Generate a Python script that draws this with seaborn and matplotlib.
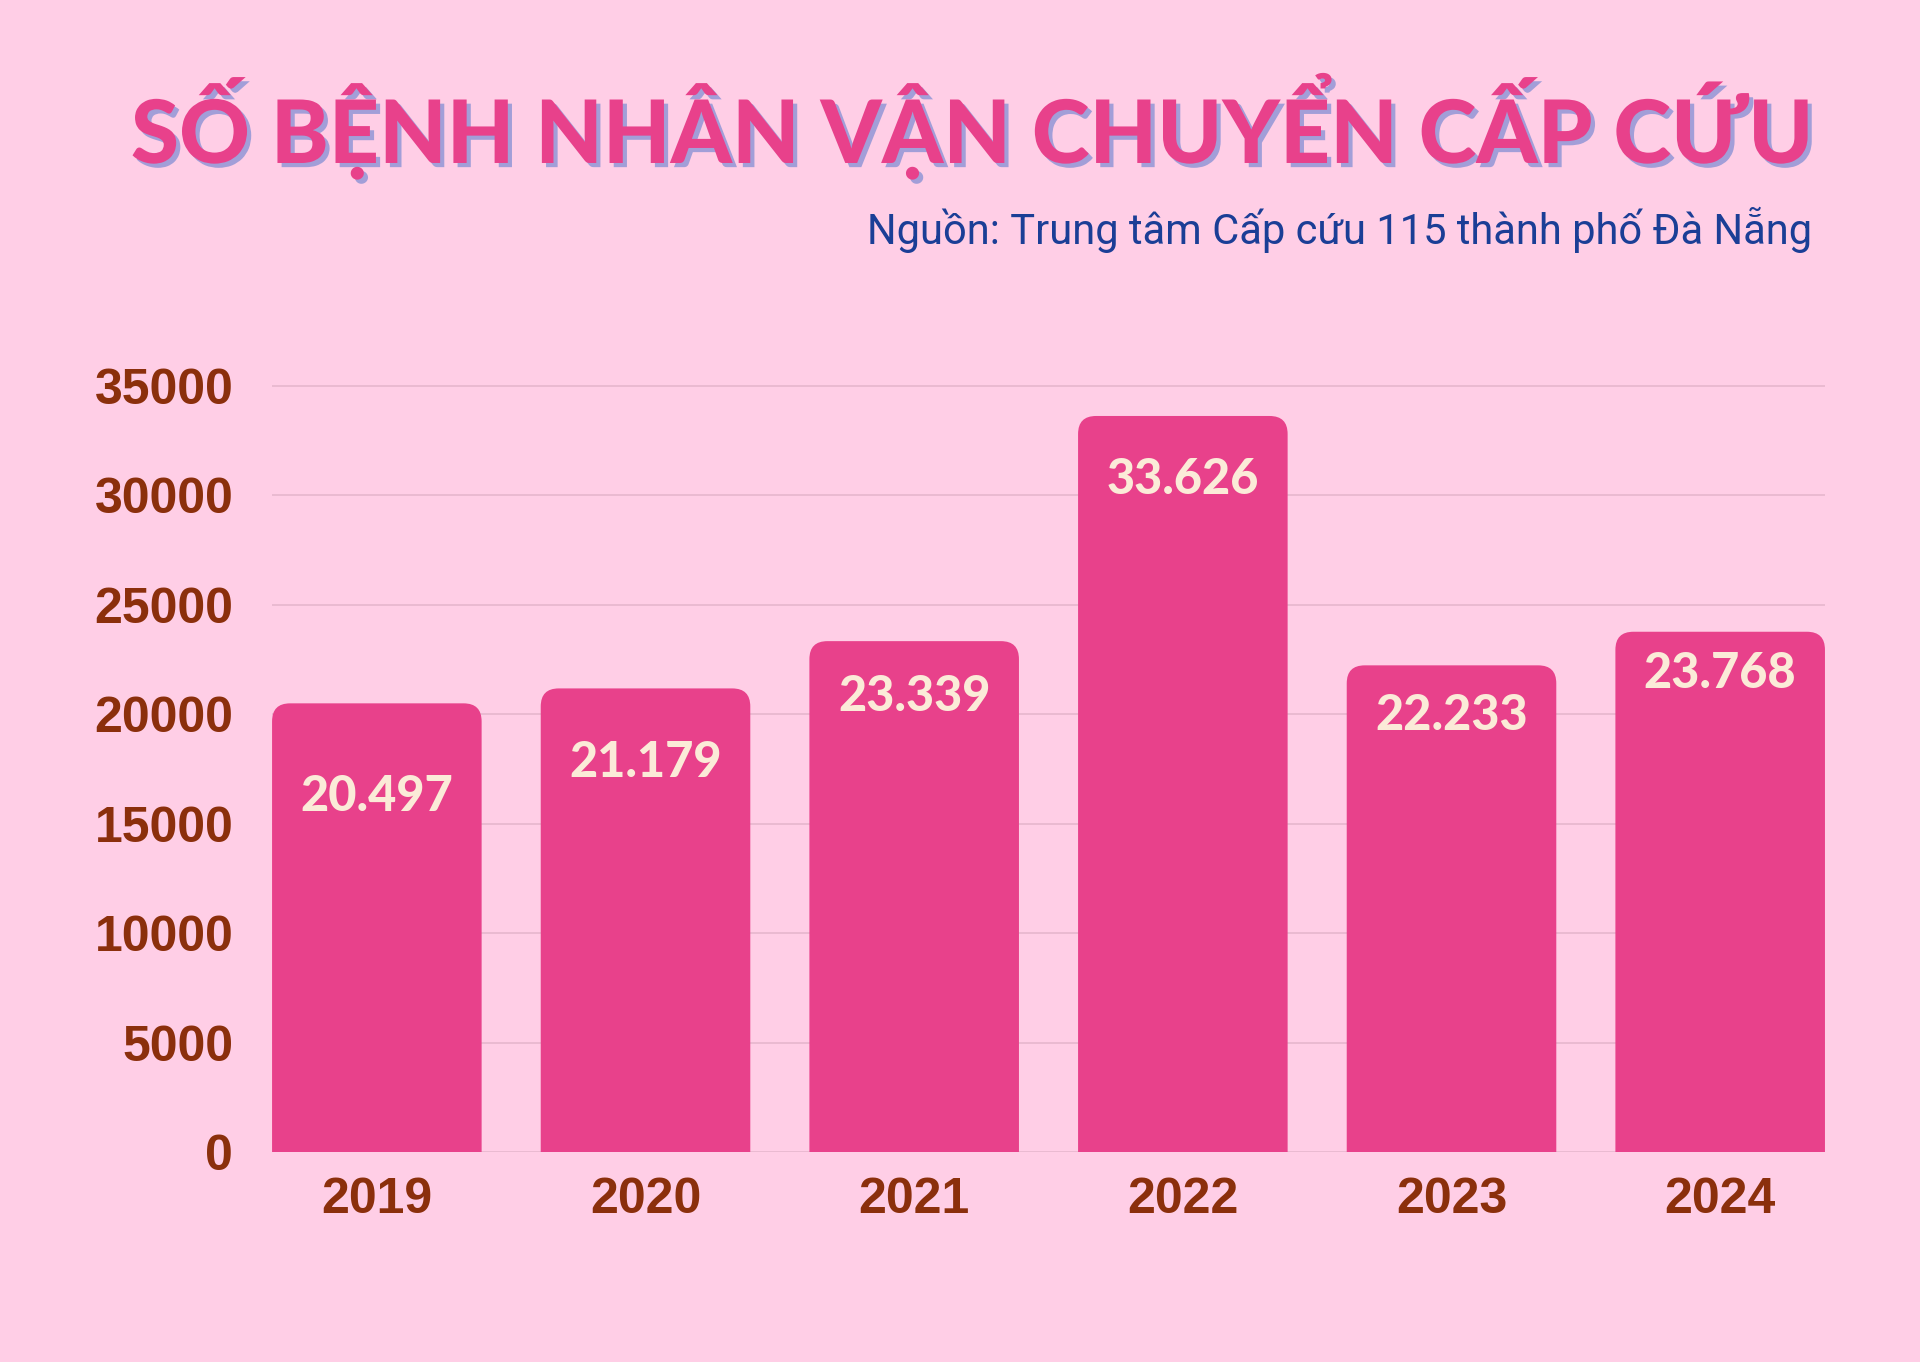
import numpy as np
import pandas as pd
import matplotlib
matplotlib.use('Agg')
import matplotlib.pyplot as plt
import matplotlib.patheffects as pe
from matplotlib.patches import FancyBboxPatch
import seaborn as sns

# data
years = ['2019', '2020', '2021', '2022', '2023', '2024']
patients = [20497, 21179, 23339, 33626, 22233, 23768]
labels = ['20.497', '21.179', '23.339', '33.626', '22.233', '23.768']
yticks = [0, 5000, 10000, 15000, 20000, 25000, 30000, 35000]

# how far each value label sits below its bar top (points)
label_drop = [67, 53, 40, 46, 36, 30]

BG = '#FFCEE6'
BAR = '#E8418B'
GRID = '#E6B6CD'
TICK = '#8B2F0C'
SUB = '#1B3E96'
LABEL = '#FBEBD8'
SHADOW = '#A29ED8'

sns.set_style('white')
plt.rcParams['font.family'] = ['Lato', 'DejaVu Sans']

df = pd.DataFrame({'year': years, 'patients': patients})

fig = plt.figure(figsize=(19.2, 13.62), dpi=100, facecolor=BG)
ax = fig.add_axes([0.1417, 0.1542, 0.9505 - 0.1417, 0.7247 - 0.1542])
ax.set_facecolor(BG)

sns.barplot(data=df, x='year', y='patients', color=BAR, width=0.78,
            saturation=1, ax=ax)

ax.set_xlim(-0.39, 5.39)
ax.set_ylim(0, 35500)
ax.set_yticks(yticks)
ax.set_yticklabels([str(t) for t in yticks])
ax.set_xlabel('')
ax.set_ylabel('')
for s in ax.spines.values():
    s.set_visible(False)
ax.yaxis.grid(True, color=GRID, lw=1.2)
ax.set_axisbelow(True)
ax.tick_params(axis='both', length=0, colors=TICK)
ax.tick_params(axis='y', pad=28)
ax.tick_params(axis='x', pad=18)
for t in ax.get_xticklabels() + ax.get_yticklabels():
    t.set_fontfamily(['Liberation Sans Narrow', 'Liberation Sans', 'DejaVu Sans'])
    t.set_fontweight('bold')
    t.set_fontsize(36)

# swap the plain bars for ones with rounded tops
fig.canvas.draw()
bb = ax.get_window_extent()
px_x = bb.width / (ax.get_xlim()[1] - ax.get_xlim()[0])
px_y = bb.height / (ax.get_ylim()[1] - ax.get_ylim()[0])
r_px = 18
bars = list(ax.patches)
for p in bars:
    x0, y0, w, h = p.get_x(), p.get_y(), p.get_width(), p.get_height()
    p.remove()
    extra = 2 * r_px / px_y
    box = FancyBboxPatch((x0, y0 - extra), w, h + extra,
                         boxstyle=f'round,pad=0,rounding_size={r_px / px_x}',
                         mutation_aspect=px_x / px_y,
                         facecolor=BAR, edgecolor='none', zorder=2)
    ax.add_patch(box)

for i, (v, lab) in enumerate(zip(patients, labels)):
    ax.annotate(lab, xy=(i, v), xytext=(0, -label_drop[i]),
                textcoords='offset points', ha='center', va='center',
                color=LABEL, fontsize=35, fontweight='black',
                family=['Lato', 'DejaVu Sans'], zorder=3)

fig.text(0.944, 0.9075, 'SỐ BỆNH NHÂN VẬN CHUYỂN CẤP CỨU',
         ha='right', va='center', color=BAR, fontsize=63,
         fontweight='black', family=['Lato', 'DejaVu Sans'],
         path_effects=[pe.withSimplePatchShadow(offset=(3, -3),
                                                shadow_rgbFace=SHADOW,
                                                alpha=1)])
fig.text(0.944, 0.831, 'Nguồn: Trung tâm Cấp cứu 115 thành phố Đà Nẵng',
         ha='right', va='center', color=SUB, fontsize=30,
         family=['Roboto', 'DejaVu Sans'])

fig.savefig('out.png', dpi=100, facecolor=BG)
